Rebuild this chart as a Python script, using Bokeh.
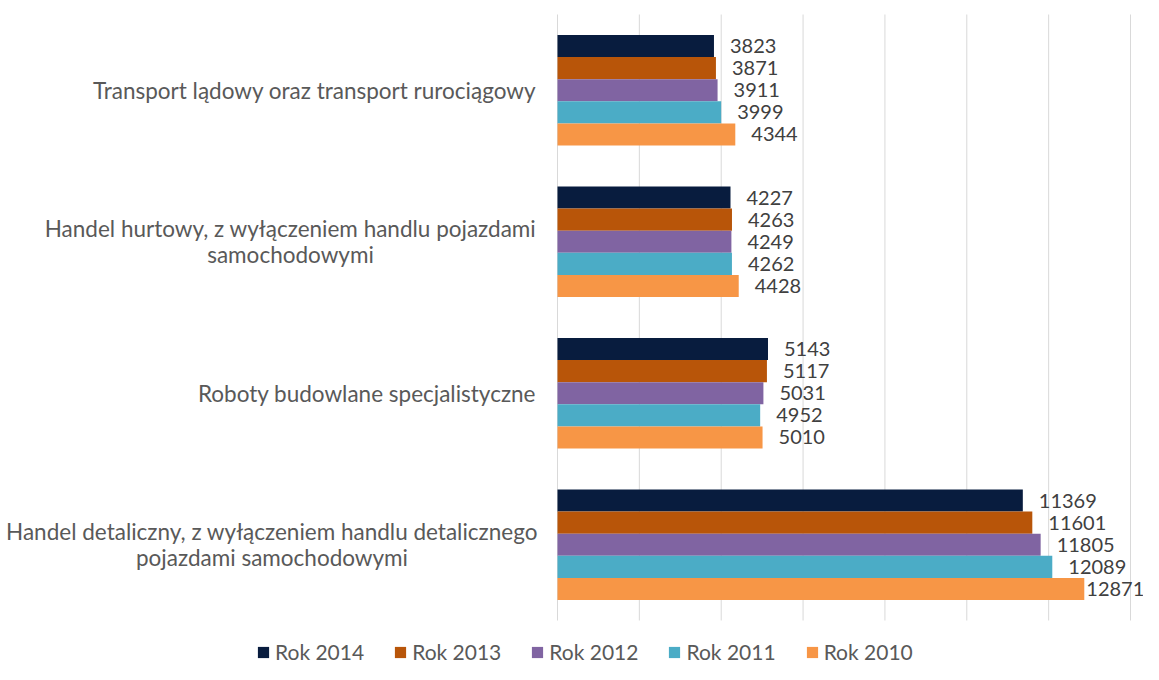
from bokeh.plotting import figure
from bokeh.models import ColumnDataSource, Range1d, Legend, LegendItem
from bokeh.transform import dodge
from bokeh.core.properties import value
from bokeh.embed import file_html
from bokeh.resources import INLINE

categories = [
    "Transport lądowy oraz transport rurociągowy",
    "Handel hurtowy, z wyłączeniem handlu pojazdami\nsamochodowymi",
    "Roboty budowlane specjalistyczne",
    "Handel detaliczny, z wyłączeniem handlu detalicznego\npojazdami samochodowymi",
]
series_names = ["Rok 2014", "Rok 2013", "Rok 2012", "Rok 2011", "Rok 2010"]
v2014 = [3823, 4227, 5143, 11369]
v2013 = [3871, 4263, 5117, 11601]
v2012 = [3911, 4249, 5031, 11805]
v2011 = [3999, 4262, 4952, 12089]
v2010 = [4344, 4428, 5010, 12871]
x_ticks = [0, 2000, 4000, 6000, 8000, 10000, 12000, 14000]

series_values = [v2014, v2013, v2012, v2011, v2010]
colors = ["#081c3e", "#b85509", "#8064a2", "#4bacc6", "#f79646"]

# layout (screen pixels)
W, H = 1143, 664
zero_px = 557.0
max_px = 1130.0
label_right_gap = 22.0
label_block_widths = [442.0, 490.0, 337.0, 527.0]   # widest line of each category label
line_gap = 26.0

scale = (max_px - zero_px) / x_ticks[-1]
x_start = -zero_px / scale
x_end = x_start + W / scale

n = len(categories)
band_px = 151.5
top_px = 14.0
y_top = (n - 1) + (top_px + band_px / 2) / band_px
y_bottom = y_top - H / band_px
ypos = [n - 1 - i for i in range(n)]

p = figure(width=W, height=H, output_backend="svg", toolbar_location=None,
           x_range=Range1d(x_start, x_end), y_range=Range1d(y_bottom, y_top),
           min_border=0, min_border_left=0, min_border_right=0,
           min_border_top=0, min_border_bottom=0)
p.axis.visible = False
p.grid.visible = False
p.outline_line_color = None
p.background_fill_color = "white"
p.border_fill_color = "white"

# gridlines
p.segment(x0=x_ticks, x1=x_ticks, y0=[-0.5] * len(x_ticks), y1=[n - 0.5] * len(x_ticks),
          line_color="#d9d9d9", line_width=1)

bar_h = 0.146
font = value("Lato")
items = []
for i, (name, vals, col) in enumerate(zip(series_names, series_values, colors)):
    off = (2 - i) * bar_h
    offsets = [max(2.0, min(16.0, W - (zero_px + v * scale) - 11.6 * len(str(v)))) for v in vals]
    src = ColumnDataSource(dict(y=ypos, v=vals, lab=[str(v) for v in vals], xo=offsets))
    r = p.hbar(y=dodge("y", off), right="v", left=0, height=bar_h, source=src,
               fill_color=col, line_color=None)
    p.text(x="v", y=dodge("y", off), text="lab", source=src, x_offset="xo",
           text_font=font, text_font_size="20px", text_color="#404040",
           text_align="left", text_baseline="middle")
    items.append(LegendItem(label=name, renderers=[r]))

# category labels: block right-aligned, lines centred within the block
ly, lt, lxo, lyo = [], [], [], []
for yp, cat, bw in zip(ypos, categories, label_block_widths):
    lines = cat.split("\n")
    k = len(lines)
    for j, line in enumerate(lines):
        ly.append(yp)
        lt.append(line)
        lxo.append(-(label_right_gap + bw / 2))
        lyo.append((j - (k - 1) / 2) * line_gap)
csrc = ColumnDataSource(dict(y=ly, t=lt, xo=lxo, yo=lyo))
p.text(x=0, y="y", text="t", source=csrc, x_offset="xo", y_offset="yo", text_font=font,
       text_font_size="22.5px", text_color="#595959", text_align="center",
       text_baseline="middle")

legend = Legend(items=items, orientation="horizontal", location=(256, 0),
                margin=0, padding=0, spacing=29, glyph_width=14, glyph_height=14,
                label_standoff=5, label_text_font="Lato", label_text_font_size="21px",
                label_text_color="#595959", border_line_color=None,
                background_fill_alpha=0)
p.add_layout(legend, "center")

open("out.html", "w").write(file_html(p, INLINE))
